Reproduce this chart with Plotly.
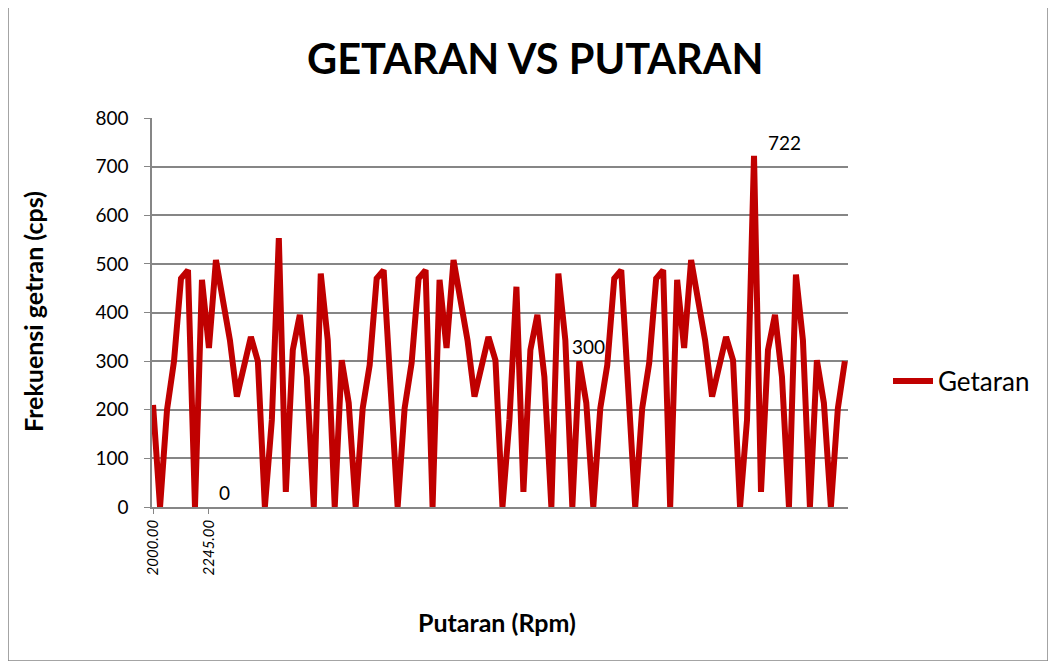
import plotly.graph_objects as go

# Data (100 points on a category axis)
getaran = [
    210, 0, 200, 300, 470, 487, 0, 467, 327, 508,
    425, 343, 227, 288, 350, 300, 0, 179, 553, 31,
    323, 395, 268, 0, 480, 343, 0, 302, 214, 0,
    203, 292, 470, 487, 243, 0, 203, 296, 470, 487,
    0, 467, 327, 508, 425, 343, 227, 288, 350, 302,
    0, 179, 453, 31, 323, 395, 268, 0, 480, 343,
    0, 300, 214, 0, 203, 292, 470, 487, 243, 0,
    203, 296, 470, 487, 0, 467, 327, 508, 425, 343,
    227, 288, 350, 302, 0, 179, 722, 31, 323, 395,
    268, 0, 478, 343, 0, 302, 214, 0, 203, 300,
]
idx = list(range(len(getaran)))
tick_pos = [0, 8]
tick_labels = ["2000.00", "2245.00"]
y_ticks = [0, 100, 200, 300, 400, 500, 600, 700, 800]

# data labels (text, point index)
labels = [("722", 86), ("300", 61), ("0", 16)]

FONT = "Lato, 'Open Sans', sans-serif"
OFF = 8  # page body margin
W, H = 1056 - 2 * OFF, 669 - 2 * OFF
# target plot area in page pixels: x 152..848, y 118..507
L, T = 152 - OFF, 118 - OFF
R = W - (848 - OFF)
B = H - (507 - OFF)
pw, ph = W - L - R, H - T - B


def px(x):
    return (x - 152) / pw


def py(y):
    return (507 - y) / ph


fig = go.Figure()
fig.add_trace(go.Scatter(
    x=idx, y=getaran, mode="lines", name="Getaran",
    line=dict(color="#C00000", width=6, shape="linear"),
    hoverinfo="skip",
))

fig.update_layout(
    width=W, height=H,
    margin=dict(l=L, r=R, t=T, b=B),
    paper_bgcolor="white", plot_bgcolor="white",
    font=dict(family=FONT, color="#000000"),
    showlegend=True,
    legend=dict(x=px(888), y=py(381), xanchor="left", yanchor="middle",
                font=dict(size=26, family=FONT, color="#000"), bgcolor="rgba(0,0,0,0)",
                itemwidth=40),
    xaxis=dict(
        range=[-0.15, 99.45], tickmode="array", tickvals=tick_pos, ticktext=tick_labels,
        tickangle=-90, tickfont=dict(size=15, family=FONT, style="italic"),
        showgrid=False, zeroline=False, showline=True, linecolor="#868686", linewidth=1.5,
        ticks="outside", ticklen=5, tickcolor="#868686",
    ),
    yaxis=dict(
        range=[0, 800], tickmode="array", tickvals=y_ticks,
        tickfont=dict(size=19, family=FONT),
        showgrid=True, gridcolor="#868686", gridwidth=1.5, zeroline=False,
        showline=True, linecolor="#868686", linewidth=1.5,
        ticks="outside", ticklen=6, tickcolor="#868686",
        ticklabelstandoff=12,
    ),
)

annotations = [
    dict(text="<b>GETARAN VS PUTARAN</b>", xref="paper", yref="paper",
         x=px(535), y=py(58), xanchor="center", yanchor="middle",
         showarrow=False, font=dict(size=41.5, family=FONT, color="#000")),
    dict(text="<b>Frekuensi getran (cps)</b>", xref="paper", yref="paper",
         x=px(33), y=py(312), xanchor="center", yanchor="middle",
         textangle=-90, showarrow=False, font=dict(size=25, family=FONT, color="#000")),
    dict(text="<b>Putaran (Rpm)</b>", xref="paper", yref="paper",
         x=px(497), y=py(622), xanchor="center", yanchor="middle",
         showarrow=False, font=dict(size=25, family=FONT, color="#000")),
]
label_offsets = {"722": (30, 13), "300": (9, 15), "0": (-40, 15)}
for txt, i in labels:
    dx, dy = label_offsets[txt]
    annotations.append(dict(text=txt, x=i, y=getaran[i], xref="x", yref="y",
                            xshift=dx, yshift=dy,
                            showarrow=False, font=dict(size=19, family=FONT, color="#000")))
fig.update_layout(annotations=annotations)

# outer chart border
fig.add_shape(type="rect", xref="paper", yref="paper",
              x0=px(8), x1=px(1048), y0=py(661), y1=py(6),
              line=dict(color="#868686", width=1.5), fillcolor="rgba(0,0,0,0)", layer="below")

fig.write_html("out.html")
